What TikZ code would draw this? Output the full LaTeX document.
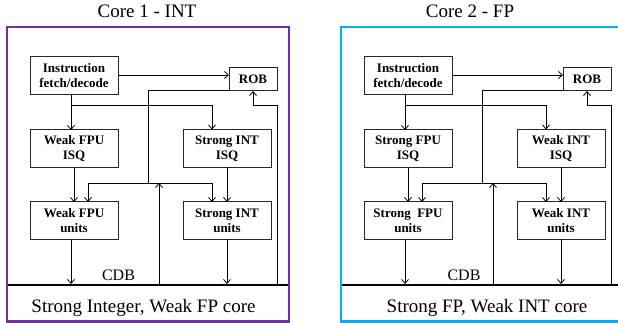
\documentclass[tikz,border=0pt]{standalone}
\usepackage{fontspec}
\setmainfont{Liberation Serif}
\usetikzlibrary{arrows.meta}

\definecolor{intpurple}{HTML}{7030A0}
\definecolor{fpblue}{HTML}{00B0F0}

\tikzset{
  blk/.style={draw=black!85, line width=1pt, fill=white, inner sep=0pt, outer sep=0pt,
    minimum width=88pt, minimum height=38pt, align=center,
    font=\fontsize{13}{15}\selectfont\bfseries},
  robbox/.style={blk, minimum width=48pt, minimum height=23pt},
  conn/.style={line width=0.8pt, draw=black},
  arr/.style={conn, -{Straight Barb[length=4pt,width=7pt]}},
  bus/.style={line width=2pt, draw=black},
  frame/.style={line width=2.5pt},
  title/.style={font=\fontsize{19}{21}\selectfont, anchor=base, inner sep=0pt},
  cdblabel/.style={font=\fontsize{16}{18}\selectfont, anchor=base, inner sep=0pt}
}

% One core: #1 name prefix, #2/#3 issue queues, #4/#5 functional units
\newcommand{\corepanel}[5]{%
  \node[blk] (#1instr) at (74,76) {Instruction\\fetch/decode};
  \node[robbox] (#1rob) at (253,79.5) {ROB};
  \node[blk] (#1isqL) at (74,149) {#2};
  \node[blk] (#1isqR) at (227,148.5) {#3};
  \node[blk, minimum height=37pt] (#1fuL) at (74,220.5) {#4};
  \node[blk, minimum height=37pt] (#1fuR) at (227,220.5) {#5};
  % bus taps and junctions
  \coordinate (#1j1) at (71,105);
  \coordinate (#1j2) at (148,183);
  \coordinate (#1rk) at (277,105);
  \coordinate (#1cdbA) at (71,285);
  \coordinate (#1cdbB) at (227,285);
  \coordinate (#1cdbU) at (159,285);
  \coordinate (#1cdbR) at (277,285);
  % dispatch
  \draw[arr] (#1instr.east |- 0,75) -- (#1rob.west |- 0,75);
  \draw[arr] (#1instr.south -| #1j1) -- (#1isqL.north -| #1j1);
  \draw[arr] (#1j1) -| (#1isqR.north -| 212,0);
  % issue to units
  \draw[arr] (#1isqL) -- (#1fuL);
  \draw[arr] (#1isqR) -- (#1fuR);
  % ROB operands back to units
  \draw[conn] (#1rob.west |- 0,90) -| (#1j2);
  \draw[arr] (#1j2) -| (#1fuL.north -| 88,0);
  \draw[arr] (#1j2) -| (#1fuR.north -| 212,0);
  \draw[arr] (#1cdbU) -- (#1cdbU |- #1j2);
  % results onto the CDB
  \draw[arr] (#1fuL.south -| #1cdbA) -- ([yshift=1pt]#1cdbA);
  \draw[arr] (#1fuR) -- ([yshift=1pt]#1cdbB);
  % CDB to ROB
  \draw[conn] (#1cdbR) -- (#1rk);
  \draw[arr] (#1rk) -| (#1rob.south);
}

\begin{document}
\begin{tikzpicture}[x=1pt, y=-1pt]
  \useasboundingbox (0,0) rectangle (618,323);
  \clip (0,0) rectangle (618,323);

  % Core 1
  \node[title] (t1) at (147,17.5) {Core 1 - INT};
  \corepanel{a}{Weak FPU\\ISQ}{Strong INT\\ISQ}{Weak FPU\\units}{Strong INT\\units}
  \draw[bus] (7,285) -- (289,285);
  \node[cdblabel] (cdb1) at (118.5,280.7) {CDB};
  \node[title] (b1) at (143.5,312.5) {Strong Integer, Weak FP core};
  \draw[frame, draw=intpurple] (7,27) rectangle (289,321.5);

  % Core 2
  \node[title] (t2) at (470,17.5) {Core 2 - FP};
  \begin{scope}[xshift=334pt]
    \corepanel{b}{Strong FPU\\ISQ}{Weak INT\\ISQ}{Strong\enspace FPU\\units}{Weak INT\\units}
    \draw[bus] (7,285) -- (289,285);
    \draw[frame, draw=fpblue] (7,27) rectangle (289,321.5);
  \end{scope}
  \node[cdblabel] (cdb2) at (464,280.7) {CDB};
  \node[title] (b2) at (487,312.5) {Strong FP, Weak INT core};
\end{tikzpicture}
\end{document}
